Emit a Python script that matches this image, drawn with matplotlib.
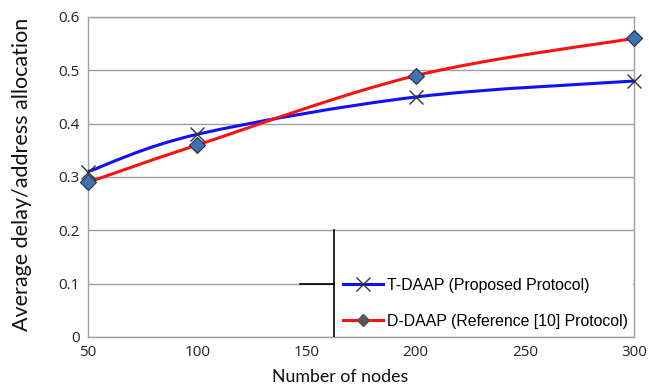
import numpy as np
import matplotlib
matplotlib.use("Agg")
import matplotlib.pyplot as plt
from matplotlib.path import Path
from matplotlib.patches import PathPatch, Rectangle
from matplotlib.lines import Line2D

nodes = [50, 100, 200, 300]
t_daap = [0.31, 0.38, 0.45, 0.48]
d_daap = [0.29, 0.36, 0.49, 0.56]
x_ticks = [50, 100, 150, 200, 250, 300]
y_ticks = [0, 0.1, 0.2, 0.3, 0.4, 0.5, 0.6]
y_ticklabels = ["0", "0.1", "0.2", "0.3", "0.4", "0.5", "0.6"]
labels = ["T-DAAP (Proposed Protocol)", "D-DAAP (Reference [10] Protocol)"]

fig = plt.figure(figsize=(6.49, 3.87), dpi=100)
ax = fig.add_axes([88 / 649, 50 / 387, 546 / 649, 320 / 387])
ax.set_xlim(50, 300)
ax.set_ylim(0, 0.6)


def smooth_path(ax, xs, ys, color):
    # Excel-like smooth line (Catmull-Rom converted to Bezier) in display space
    pts = ax.transData.transform(np.column_stack([xs, ys]))
    n = len(pts)
    verts = [pts[0]]
    codes = [Path.MOVETO]
    for i in range(n - 1):
        p0 = pts[i - 1] if i > 0 else pts[i]
        p1 = pts[i]
        p2 = pts[i + 1]
        p3 = pts[i + 2] if i + 2 < n else pts[i + 1]
        c1 = p1 + (p2 - p0) / 6.0
        c2 = p2 - (p3 - p1) / 6.0
        verts += [c1, c2, p2]
        codes += [Path.CURVE4] * 3
    inv = ax.transData.inverted()
    path = Path(inv.transform(np.array(verts)), codes)
    ax.add_patch(PathPatch(path, facecolor="none", edgecolor=color, lw=2.2, zorder=3))


smooth_path(ax, nodes, t_daap, "#1010ff")
smooth_path(ax, nodes, d_daap, "#ff1010")
ax.plot(nodes, t_daap, ls="none", marker="x", ms=10, mew=1.0, color="#333333",
        zorder=5, clip_on=False)
ax.plot(nodes, d_daap, ls="none", marker="D", ms=8, mfc="#3f72af", mec="#1f2f4f",
        mew=0.8, zorder=5, clip_on=False)

# white legend background area with black left edge and stub
ax.add_patch(Rectangle((0.45, 0.003), 0.548, 0.325, transform=ax.transAxes,
                       facecolor="white", edgecolor="none", zorder=1.5))
ax.plot([0.45, 0.45], [0.0, 1 / 3], transform=ax.transAxes, color="black", lw=1.2, zorder=4)
ax.plot([0.388, 0.45], [1 / 6, 1 / 6], transform=ax.transAxes, color="black", lw=1.2, zorder=4)

h1 = Line2D([], [], color="#1010ff", lw=2.2, marker="x", ms=10, mec="#333333", mew=1.0)
h2 = Line2D([], [], color="#ff1010", lw=2.2, marker="D", ms=6, mfc="#555555", mec="#555555")
leg = ax.legend([h1, h2], labels, loc="lower left", bbox_to_anchor=(0.467, 0.025),
                frameon=False, prop={"family": "Liberation Sans", "size": 11.4},
                handlelength=2.5, labelspacing=1.35, borderaxespad=0.0, borderpad=0.0,
                handletextpad=0.3)

ax.set_yticks(y_ticks)
ax.set_yticklabels(y_ticklabels)
ax.set_xticks(x_ticks)
ax.set_xticklabels([str(v) for v in x_ticks])
ax.tick_params(length=0, labelsize=11, colors="#222222", pad=6)
for lab in ax.get_xticklabels() + ax.get_yticklabels():
    lab.set_family("Open Sans")
ax.grid(axis="y", color="#a0a0a0", lw=1.0)
ax.set_axisbelow(True)
for s in ax.spines.values():
    s.set_color("#a0a0a0")
    s.set_linewidth(1.0)

ax.set_xlabel("Number of nodes", family="Lato", fontsize=12.8, color="#111111")
ax.xaxis.set_label_coords(0.4615, -0.1)
ax.set_ylabel("Average delay/address allocation", family="Lato", fontsize=15.5,
              color="#111111")
ax.yaxis.set_label_coords(-0.103, 0.508)

fig.savefig("out.png", dpi=100)
